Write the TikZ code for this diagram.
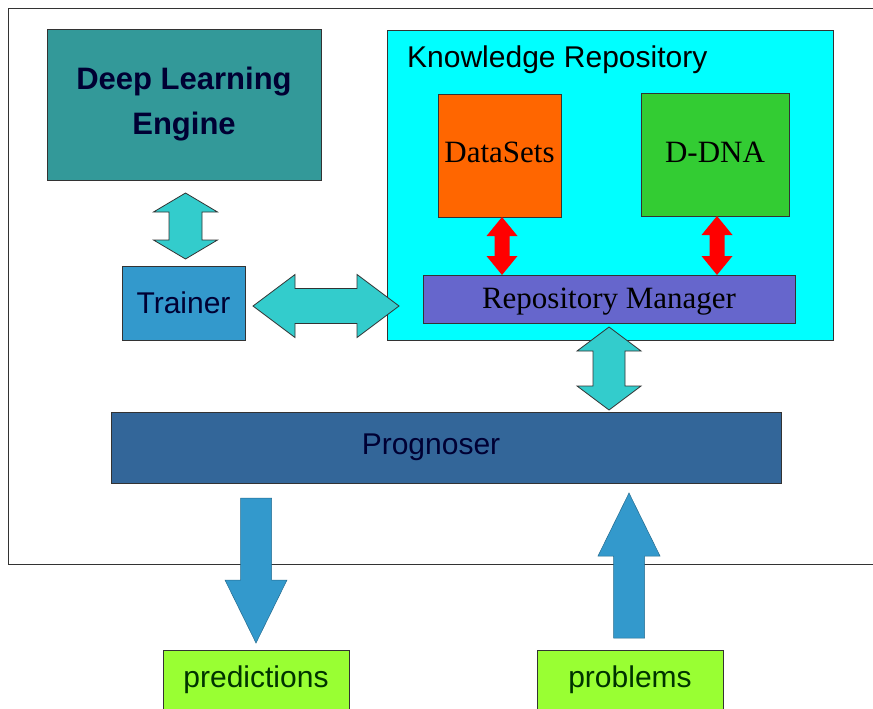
\documentclass[tikz,border=0pt]{standalone}
\usepackage{fontspec}
\setmainfont{Liberation Serif}
\setsansfont{Liberation Sans}
\usetikzlibrary{calc}
\definecolor{dlecol}{HTML}{339999}
\definecolor{trainercol}{HTML}{3399CC}
\definecolor{krcol}{HTML}{00FFFF}
\definecolor{dscol}{HTML}{FF6600}
\definecolor{dnacol}{HTML}{33CC33}
\definecolor{rmcol}{HTML}{6666CC}
\definecolor{progcol}{HTML}{336699}
\definecolor{outcol}{HTML}{99FF33}
\definecolor{tealcol}{HTML}{33CCCC}
\definecolor{bluearr}{HTML}{3399CC}
\definecolor{navytext}{HTML}{000033}
\definecolor{greentext}{HTML}{003300}
\definecolor{edgecol}{HTML}{333333}
\tikzset{
  box/.style={rectangle, draw=edgecol, line width=0.9pt, inner sep=0pt, outer sep=0pt, anchor=north west},
  sanstext/.style={font=\sffamily\fontsize{30}{36}\selectfont},
  seriftext/.style={font=\rmfamily\fontsize{31}{37}\selectfont},
  tealarrow/.style={fill=tealcol, draw=edgecol, line width=0.8pt, line join=miter},
  redarrow/.style={fill=red, draw=none},
  bluearrow/.style={fill=bluearr, draw=bluearr!70!black, line width=0.5pt, line join=miter}
}
\newcommand{\VDoubleArrow}[6]{%
  \filldraw[#1] let \p1=(#2), \p2=(#3) in
    (\x1,\y1) -- (\x1+#4,\y1-#6) -- (\x1+#5,\y1-#6) -- (\x1+#5,\y2+#6) -- (\x1+#4,\y2+#6)
    -- (\x1,\y2) -- (\x1-#4,\y2+#6) -- (\x1-#5,\y2+#6) -- (\x1-#5,\y1-#6) -- (\x1-#4,\y1-#6) -- cycle;}
\newcommand{\HDoubleArrow}[6]{%
  \filldraw[#1] let \p1=(#2), \p2=(#3) in
    (\x1,\y1) -- (\x1+#6,\y1+#4) -- (\x1+#6,\y1+#5) -- (\x2-#6,\y1+#5) -- (\x2-#6,\y1+#4)
    -- (\x2,\y1) -- (\x2-#6,\y1-#4) -- (\x2-#6,\y1-#5) -- (\x1+#6,\y1-#5) -- (\x1+#6,\y1-#4) -- cycle;}
\newcommand{\DownBlockArrow}[6]{%
  \filldraw[#1] let \p1=(#2), \p2=(#3) in
    (\x1-#5,\y1) -- (\x1+#5,\y1) -- (\x1+#5,\y2+#6) -- (\x1+#4,\y2+#6) -- (\x1,\y2)
    -- (\x1-#4,\y2+#6) -- (\x1-#5,\y2+#6) -- cycle;}
\newcommand{\UpBlockArrow}[6]{%
  \filldraw[#1] let \p1=(#2), \p2=(#3) in
    (\x1-#5,\y1) -- (\x1+#5,\y1) -- (\x1+#5,\y2-#6) -- (\x1+#4,\y2-#6) -- (\x1,\y2)
    -- (\x1-#4,\y2-#6) -- (\x1-#5,\y2-#6) -- cycle;}
\begin{document}
\begin{tikzpicture}[x=1pt,y=-1pt]
\useasboundingbox (0,0) rectangle (873,709);
\fill[white] (0,0) rectangle (873,709);
% outer frame
\draw[edgecol, line width=1pt] (873,9) -- (8,9) -- (8,564) -- (873,564);

% nodes
\node[box, fill=dlecol, minimum width=274pt, minimum height=151pt, align=center, text=navytext,
      font=\sffamily\bfseries\fontsize{31}{45}\selectfont] (dle) at (47,29) {Deep Learning\\Engine};
\node[box, sanstext, fill=trainercol, minimum width=123pt, minimum height=74pt, text=navytext] (trainer) at (122,266) {Trainer};
\node[box, fill=krcol, minimum width=446pt, minimum height=310pt] (kr) at (387,30) {};
\node[sanstext, anchor=base west, inner sep=0pt] (krt) at (407,67) {Knowledge Repository};
\node[box, seriftext, fill=dscol, minimum width=123pt, minimum height=123pt, text height=20pt, text depth=7pt] (ds) at (438,94) {DataSets};
\node[box, seriftext, fill=dnacol, minimum width=148pt, minimum height=123pt, text height=21pt, text depth=6pt] (dna) at (641,93) {D-DNA};
\node[box, seriftext, fill=rmcol, minimum width=372pt, minimum height=48pt, text height=24pt, text depth=6pt] (rm) at (423,275) {Repository Manager};
\node[box, sanstext, fill=progcol, minimum width=670pt, minimum height=71pt, text=navytext] (prog) at (111,412) {Prognoser\hspace*{30pt}};
\node[box, sanstext, fill=outcol, minimum width=186pt, minimum height=60pt, text=greentext] (pred) at (163,650) {predictions};
\node[box, sanstext, fill=outcol, minimum width=186pt, minimum height=60pt, text=greentext] (prob) at (537,650) {problems};

% connectors (block arrows)
\VDoubleArrow{tealarrow}{$(dle.south)+(1.5,13)$}{$(trainer.north)+(2,-7)$}{32pt}{16.5pt}{19pt}
\HDoubleArrow{tealarrow}{$(trainer.east)+(8,3)$}{$(trainer.east -| kr.west)+(12,3)$}{31.5pt}{17.5pt}{42pt}
\VDoubleArrow{redarrow}{$(ds.south)+(2.5,0)$}{$(ds.south |- rm.north)+(2.5,0)$}{15.5pt}{7.5pt}{19pt}
\VDoubleArrow{redarrow}{$(dna.south)+(2,0)$}{$(dna.south |- rm.north)+(2,0)$}{15.5pt}{7.5pt}{19pt}
\VDoubleArrow{tealarrow}{$(rm.south)+(0,4)$}{$(rm.south |- prog.north)+(0,-2)$}{32pt}{16pt}{24pt}
\DownBlockArrow{bluearrow}{$(prog.south -| pred.north)+(0,15)$}{$(pred.north)+(0,-7)$}{31pt}{15.5pt}{63pt}
\UpBlockArrow{bluearrow}{$(prob.north)+(-1,-12)$}{$(prog.south -| prob.north)+(-1,10)$}{31pt}{15.5pt}{63pt}
\end{tikzpicture}
\end{document}
